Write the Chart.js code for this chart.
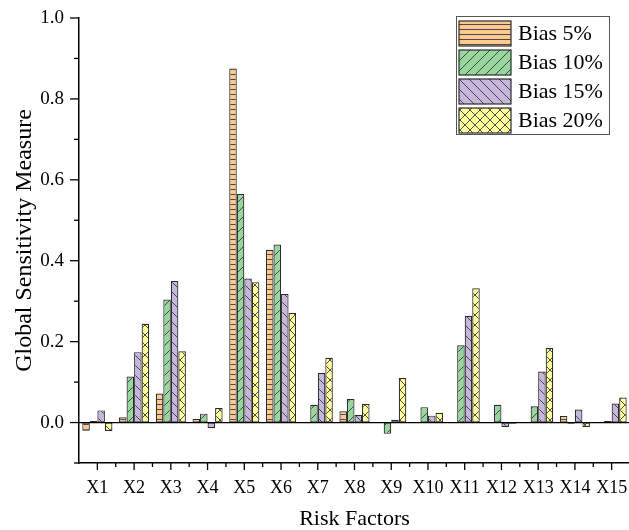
<!DOCTYPE html>
<html>
<head>
<meta charset="utf-8">
<script src="https://cdn.jsdelivr.net/npm/chart.js@4/dist/chart.umd.min.js"></script>
<style>
    html, body { margin: 0; padding: 0; background: #fff; overflow: hidden; }
    #chart { display: block; }
</style>
</head>
<body>
<canvas id="chart" width="631" height="530"></canvas>
<script>

// ------------------------
// DATA
// ------------------------

const factors = ["X1", "X2", "X3", "X4", "X5", "X6", "X7", "X8", "X9", "X10", "X11", "X12", "X13", "X14", "X15"];

const bias5  = [-0.020, 0.013, 0.072, 0.009, 0.875, 0.427, 0, 0.028, 0, 0, 0, 0, 0, 0.016, 0];
const bias10 = [0.004, 0.114, 0.304, 0.022, 0.565, 0.440, 0.044, 0.058, -0.028, 0.038, 0.191, 0.044, 0.040, -0.003, 0.004];
const bias15 = [0.030, 0.174, 0.350, -0.014, 0.356, 0.318, 0.123, 0.019, 0.007, 0.017, 0.264, -0.011, 0.126, 0.032, 0.047];
const bias20 = [-0.021, 0.244, 0.176, 0.036, 0.347, 0.271, 0.160, 0.046, 0.110, 0.024, 0.332, -0.003, 0.184, -0.011, 0.062];

const seriesLabels = ["Bias 5%", "Bias 10%", "Bias 15%", "Bias 20%"];

const FONT = "'Liberation Serif', 'Times New Roman', serif";

// ------------------------
// PATTERNS
// ------------------------

function makePattern(fill, kind) {
    const size = kind === "hlines" ? 5 : 10;
    const c = document.createElement("canvas");
    c.width = 10;
    c.height = size;
    const g = c.getContext("2d");
    g.fillStyle = fill;
    g.fillRect(0, 0, c.width, c.height);
    g.strokeStyle = "#3a3a3a";
    g.lineWidth = 0.9;
    g.beginPath();
    if (kind === "hlines") {
        g.moveTo(0, 4.5); g.lineTo(10, 4.5);
    }
    if (kind === "fwd" || kind === "cross") {
        g.moveTo(-1, 11); g.lineTo(11, -1);
    }
    if (kind === "back" || kind === "cross") {
        g.moveTo(-1, -1); g.lineTo(11, 11);
    }
    g.stroke();
    return g.createPattern(c, "repeat");
}

const ctx = document.getElementById("chart").getContext("2d");

const fills = [
    makePattern("#FDC990", "hlines"),
    makePattern("#98D69D", "fwd"),
    makePattern("#C6B6DC", "back"),
    makePattern("#FFFF9C", "cross")
];

// ------------------------
// PLUGINS
// ------------------------

// axis ticks (major + minor) and zero line
const axisTicks = {
    id: "axisTicks",
    afterDatasetsDraw(chart) {
        const { ctx, chartArea, scales } = chart;
        const x = scales.x, y = scales.y;
        ctx.save();
        ctx.strokeStyle = "#000";
        ctx.lineWidth = 1.3;

        // zero line
        const y0 = y.getPixelForValue(0);
        ctx.beginPath();
        ctx.moveTo(chartArea.left, y0);
        ctx.lineTo(chartArea.right, y0);
        ctx.stroke();

        // y ticks
        for (let i = -1; i <= 10; i++) {
            const py = y.getPixelForValue(i / 10);
            const len = (i % 2 === 0) ? 9 : 5;
            ctx.beginPath();
            ctx.moveTo(chartArea.left - len, py);
            ctx.lineTo(chartArea.left, py);
            ctx.stroke();
        }

        // x ticks: centres long, boundaries short
        const half = (x.getPixelForValue(1) - x.getPixelForValue(0)) / 2;
        factors.forEach((_, i) => {
            const px = x.getPixelForValue(i);
            ctx.beginPath();
            ctx.moveTo(px, chartArea.bottom);
            ctx.lineTo(px, chartArea.bottom + 7);
            ctx.moveTo(px + half, chartArea.bottom);
            ctx.lineTo(px + half, chartArea.bottom + 4);
            ctx.stroke();
        });
        ctx.restore();
    }
};

// boxed legend in the top-right corner
const boxLegend = {
    id: "boxLegend",
    afterDraw(chart) {
        const { ctx, chartArea } = chart;
        const left = chartArea.right - 174;
        const top = chartArea.top - 2;
        const w = 153, h = 118;
        ctx.save();
        ctx.fillStyle = "#fff";
        ctx.fillRect(left, top, w, h);
        ctx.strokeStyle = "#555";
        ctx.lineWidth = 1;
        ctx.strokeRect(left + 0.5, top + 0.5, w, h);

        ctx.font = "22px " + FONT;
        ctx.textBaseline = "middle";
        chart.data.datasets.forEach((ds, i) => {
            const sy = top + 5 + i * 29;
            ctx.fillStyle = ds.backgroundColor;
            ctx.fillRect(left + 3, sy, 52, 25);
            ctx.strokeStyle = "#2b2b2b";
            ctx.lineWidth = 1.2;
            ctx.strokeRect(left + 3, sy, 52, 25);
            ctx.fillStyle = "#000";
            ctx.fillText(ds.label, left + 62, sy + 13);
        });
        ctx.restore();
    }
};

// ------------------------
// CHART
// ------------------------

function dataset(label, data, i) {
    return {
        label,
        data,
        backgroundColor: fills[i],
        borderColor: "#2b2b2b",
        borderWidth: 1.2,
        borderSkipped: false,
        categoryPercentage: 0.82,
        barPercentage: 1.0
    };
}

new Chart(ctx, {
    type: "bar",
    data: {
        labels: factors,
        datasets: [
            dataset(seriesLabels[0], bias5, 0),
            dataset(seriesLabels[1], bias10, 1),
            dataset(seriesLabels[2], bias15, 2),
            dataset(seriesLabels[3], bias20, 3)
        ]
    },
    options: {
        responsive: false,
        animation: false,
        layout: { padding: { top: 18, right: 1, left: 0, bottom: 0 } },
        plugins: {
            legend: { display: false },
            tooltip: { enabled: false }
        },
        scales: {
            x: {
                afterFit: s => {
                    s.height = 67;
                    s.paddingLeft = 0;
                    s.paddingRight = 0;
                },
                grid: { display: false, drawTicks: false },
                border: { display: true, color: "#000", width: 1.5 },
                ticks: {
                    color: "#000",
                    padding: 14,
                    maxRotation: 0,
                    autoSkip: false,
                    font: { family: FONT, size: 18 }
                },
                title: {
                    display: true,
                    text: "Risk Factors",
                    color: "#000",
                    font: { family: FONT, size: 22, lineHeight: 1 },
                    padding: { top: -1, bottom: 0 }
                }
            },
            y: {
                min: -0.1,
                max: 1.0,
                afterFit: s => {
                    s.width = 79;
                    s.paddingTop = 0;
                    s.paddingBottom = 0;
                },
                grid: { display: false, drawTicks: false },
                border: { display: true, color: "#000", width: 1.5 },
                ticks: {
                    stepSize: 0.1,
                    color: "#000",
                    padding: 15,
                    font: { family: FONT, size: 19 },
                    callback: v => {
                        const k = Math.round(v * 10);
                        return (k >= 0 && k % 2 === 0) ? (k / 10).toFixed(1) : "";
                    }
                },
                title: {
                    display: true,
                    text: "Global Sensitivity Measure",
                    color: "#000",
                    font: { family: FONT, size: 24, lineHeight: 1 },
                    padding: { top: 13, bottom: 0 }
                }
            }
        }
    },
    plugins: [axisTicks, boxLegend]
});
</script>
</body>
</html>
